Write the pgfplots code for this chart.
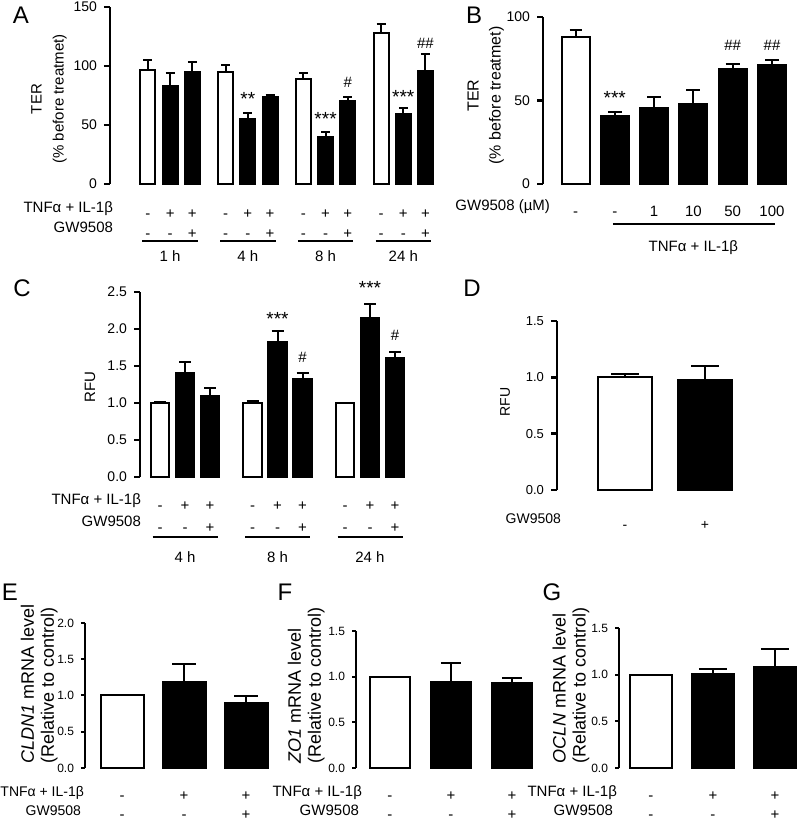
\documentclass[border=0pt]{standalone}
\usepackage{fontspec}
\setmainfont{Liberation Sans}
\usepackage{pgfplots}
\pgfplotsset{compat=1.18}
\newcommand{\fs}[2]{\fontsize{#1}{#2}\selectfont}
\pgfplotsset{
  panel/.style={
    axis y line*=left, axis x line*=bottom,
    axis line style={line width=1.2pt, black},
    x axis line style={draw=none},
    xtick style={draw=none},
    ytick style={line width=1.2pt, black},
    tick align=outside,
    major tick length=3pt,
    enlargelimits=false,
    clip=false,
    ybar,
    /pgf/number format/assume math mode=true,
    anchor=south west,
  },
  wbar/.style={fill=white, draw=black, line width=1pt, bar shift=0pt,
     error bars/.cd, y dir=plus, y explicit,
     error bar style={line width=1pt, black},
     error mark options={rotate=90, mark size=#1, line width=1pt, black}},
  bbar/.style={fill=black, draw=black, line width=1pt, bar shift=0pt,
     error bars/.cd, y dir=plus, y explicit,
     error bar style={line width=1pt, black},
     error mark options={rotate=90, mark size=#1, line width=1pt, black}},
  low/.style={
    axis line style={line width=1pt, black}, x axis line style={draw=none},
    ytick style={line width=1pt, black}, major tick length=2pt,
    yticklabel style={font=\fs{6}{7}, /pgf/number format/.cd, fixed, fixed zerofill, precision=1},
    xtick={0,1,2},
    xticklabels={{\strut-\\\strut-},{\strut+\\\strut-},{\strut+\\\strut+}},
    xticklabel style={align=center, anchor=center, inner sep=0pt, font=\fs{7.5}{9.5}, yshift=-16.95pt},
  },
}
\begin{document}
\begin{tikzpicture}
\path[use as bounding box] (0,0) rectangle (400pt,410pt);
% Panel letters
\node[font=\fs{12}{12}] at (10.5pt,402.5pt) {A};
\node[font=\fs{12}{12}] at (237pt,402.5pt) {B};
\node[font=\fs{12}{12}] at (11pt,266pt) {C};
\node[font=\fs{12}{12}] at (236pt,266pt) {D};
\node[font=\fs{12}{12}] at (5pt,114pt) {E};
\node[font=\fs{12}{12}] at (142.5pt,114pt) {F};
\node[font=\fs{12}{12}] at (276pt,114pt) {G};

% ---------------- Panel A ----------------
\begin{axis}[panel, at={(55pt,318pt)},
  x=11.1pt, y=0.59pt, xmin=-1.71, xmax=12.84, ymin=0, ymax=150,
  bar width=7.5pt,
  ytick={0,50,100,150},
  yticklabel style={font=\fs{7}{8}},
  xtick={0,1,2,3.5,4.5,5.5,7,8,9,10.5,11.5,12.5},
  xticklabels={{\strut-\\\strut-},{\strut+\\\strut-},{\strut+\\\strut+},
               {\strut-\\\strut-},{\strut+\\\strut-},{\strut+\\\strut+},
               {\strut-\\\strut-},{\strut+\\\strut-},{\strut+\\\strut+},
               {\strut-\\\strut-},{\strut+\\\strut-},{\strut+\\\strut+}},
  xticklabel style={align=center, anchor=center, inner sep=0pt, font=\fs{7.5}{10}, yshift=-17.1pt},
  ylabel={TER\\(\% before treatmet)},
  every axis y label/.style={at={(axis description cs:-0.189,0.48)}, rotate=90, anchor=center, align=center, font=\fs{7.5}{11}},
]
\addplot[wbar=2.25pt] coordinates {(0,97) +- (0,8) (3.5,95) +- (0,6) (7,89) +- (0,5) (10.5,128) +- (0,7.5)};
\addplot[bbar=2.25pt] coordinates {(1,83) +- (0,11) (2,95) +- (0,8) (4.5,55) +- (0,5) (5.5,74) +- (0,1.5)
   (8,40) +- (0,4) (9,70) +- (0,3.5) (11.5,59) +- (0,5) (12.5,96) +- (0,14)};
\node[font=\fs{9.5}{10}] at (axis cs:4.5,72) {**};
\node[font=\fs{9.5}{10}] at (axis cs:8,55) {***};
\node[font=\fs{7.5}{8}] at (axis cs:9,86) {\#};
\node[font=\fs{9.5}{10}] at (axis cs:11.5,74) {***};
\node[font=\fs{7.5}{8}] at (axis cs:12.5,119.5) {\#\#};
\node[anchor=base east, font=\fs{7.5}{10}, xshift=5pt, yshift=-14.1pt] at (rel axis cs:0,0) {TNFα + IL-1β};
\node[anchor=base east, font=\fs{7.5}{10}, xshift=5pt, yshift=-24.1pt] at (rel axis cs:0,0) {GW9508};
\draw[line width=1pt] (axis cs:-0.25,-48.3) -- (axis cs:2.25,-48.3);
\draw[line width=1pt] (axis cs:3.25,-48.3) -- (axis cs:5.75,-48.3);
\draw[line width=1pt] (axis cs:6.75,-48.3) -- (axis cs:9.25,-48.3);
\draw[line width=1pt] (axis cs:10.25,-48.3) -- (axis cs:12.75,-48.3);
\node[font=\fs{7.5}{9}] at (axis cs:1,-61) {1 h};
\node[font=\fs{7.5}{9}] at (axis cs:4.5,-61) {4 h};
\node[font=\fs{7.5}{9}] at (axis cs:8,-61) {8 h};
\node[font=\fs{7.5}{9}] at (axis cs:11.5,-61) {24 h};
\end{axis}

% ---------------- Panel B ----------------
\begin{axis}[panel, at={(271.5pt,318pt)},
  x=19.65pt, y=0.835pt, xmin=-0.827, xmax=5.356, ymin=0, ymax=100,
  bar width=14pt,
  ytick={0,50,100},
  yticklabel style={font=\fs{7}{8}},
  xtick={0,1,2,3,4,5},
  xticklabels={-,-,1,10,50,100},
  xticklabel style={anchor=base, inner sep=0pt, font=\fs{7.5}{9}, yshift=-13.1pt},
  ylabel={TER\\(\% before treatmet)},
  every axis y label/.style={at={(axis description cs:-0.235,0.53)}, rotate=90, anchor=center, align=center, font=\fs{8}{11}},
]
\addplot[wbar=3pt] coordinates {(0,88) +- (0,4)};
\addplot[bbar=3.5pt] coordinates {(1,41) +- (0,2) (2,45.5) +- (0,6.5) (3,48) +- (0,8) (4,69) +- (0,3) (5,71) +- (0,3.5)};
\node[font=\fs{9.5}{10}] at (axis cs:1,51.5) {***};
\node[font=\fs{7.5}{8}] at (axis cs:4,82.8) {\#\#};
\node[font=\fs{7.5}{8}] at (axis cs:5,82.8) {\#\#};
\node[anchor=base east, font=\fs{7.5}{10}, xshift=7pt, yshift=-13.1pt] at (rel axis cs:0,0) {GW9508 (µM)};
\draw[line width=1pt] (axis cs:0.95,-24) -- (axis cs:5.08,-24);
\node[font=\fs{7.5}{9}] at (axis cs:3.0,-38.3) {TNFα + IL-1β};
\end{axis}

% ---------------- Panel C ----------------
\begin{axis}[panel, at={(70pt,171.5pt)},
  x=12.5pt, y=37pt, xmin=-0.8, xmax=9.8, ymin=0, ymax=2.5,
  bar width=9.25pt,
  ytick={0,0.5,1,1.5,2,2.5},
  yticklabel style={font=\fs{7}{8}, /pgf/number format/.cd, fixed, fixed zerofill, precision=1},
  xtick={0,1,2,3.7,4.7,5.7,7.4,8.4,9.4},
  xticklabels={{\strut-\\\strut-},{\strut+\\\strut-},{\strut+\\\strut+},
               {\strut-\\\strut-},{\strut+\\\strut-},{\strut+\\\strut+},
               {\strut-\\\strut-},{\strut+\\\strut-},{\strut+\\\strut+}},
  xticklabel style={align=center, anchor=center, inner sep=0pt, font=\fs{7.5}{11}, yshift=-16.9pt},
  ylabel={RFU},
  every axis y label/.style={at={(axis description cs:-0.189,0.486)}, rotate=90, anchor=center, font=\fs{7.5}{9}},
]
\addplot[wbar=3pt] coordinates {(0,1.0) +- (0,0.01) (3.7,1.0) +- (0,0.03) (7.4,1.0) +- (0,0)};
\addplot[bbar=3pt] coordinates {(1,1.40) +- (0,0.16) (2,1.10) +- (0,0.10) (4.7,1.82) +- (0,0.15) (5.7,1.33) +- (0,0.08)
   (8.4,2.15) +- (0,0.19) (9.4,1.61) +- (0,0.08)};
\node[font=\fs{9.5}{10}] at (axis cs:4.7,2.14) {***};
\node[font=\fs{7.5}{8}] at (axis cs:5.7,1.62) {\#};
\node[font=\fs{9.5}{10}] at (axis cs:8.4,2.56) {***};
\node[font=\fs{7.5}{8}] at (axis cs:9.4,1.92) {\#};
\node[anchor=base east, font=\fs{7.5}{10}, xshift=4pt, yshift=-13.6pt] at (rel axis cs:0,0) {TNFα + IL-1β};
\node[anchor=base east, font=\fs{7.5}{10}, xshift=4pt, yshift=-24.6pt] at (rel axis cs:0,0) {GW9508};
\draw[line width=1pt] (axis cs:-0.3,-0.81) -- (axis cs:2.3,-0.81);
\draw[line width=1pt] (axis cs:3.4,-0.81) -- (axis cs:6.0,-0.81);
\draw[line width=1pt] (axis cs:7.1,-0.81) -- (axis cs:9.7,-0.81);
\node[font=\fs{7.5}{9}] at (axis cs:1,-1.08) {4 h};
\node[font=\fs{7.5}{9}] at (axis cs:4.7,-1.08) {8 h};
\node[font=\fs{7.5}{9}] at (axis cs:8.4,-1.08) {24 h};
\end{axis}

% ---------------- Panel D ----------------
\begin{axis}[panel, at={(278.5pt,165pt)},
  x=40pt, y=56.33pt, xmin=-0.85, xmax=1.35, ymin=0, ymax=1.5,
  bar width=27pt,
  ytick={0,0.5,1,1.5},
  yticklabel style={font=\fs{6.5}{7}, /pgf/number format/.cd, fixed, fixed zerofill, precision=1},
  xtick={0,1},
  xticklabels={-,+},
  xticklabel style={anchor=base, inner sep=0pt, font=\fs{7}{8}, yshift=-16.9pt},
  ylabel={RFU},
  every axis y label/.style={at={(axis description cs:-0.295,0.52)}, rotate=90, anchor=center, font=\fs{7}{9}},
]
\addplot[wbar=7pt] coordinates {(0,1.00) +- (0,0.03)};
\addplot[bbar=7pt] coordinates {(1,0.98) +- (0,0.12)};
\node[anchor=base east, font=\fs{7}{8}, xshift=5.5pt, yshift=-16.9pt] at (rel axis cs:0,0) {GW9508};
\end{axis}

% ---------------- Panel E ----------------
\begin{axis}[panel, low, at={(42.5pt,26pt)},
  x=31pt, y=36.25pt, xmin=-0.597, xmax=2.355, ymin=0, ymax=2,
  bar width=21.5pt,
  ytick={0,0.5,1,1.5,2},
  ylabel={\textit{CLDN1} mRNA level\\(Relative to control)},
  every axis y label/.style={at={(axis description cs:-0.25,-0.02)}, rotate=90, anchor=west, align=left, font=\fs{9}{10}},
]
\addplot[wbar=6pt] coordinates {(0,1.0) +- (0,0)};
\addplot[bbar=6pt] coordinates {(1,1.19) +- (0,0.25) (2,0.89) +- (0,0.10)};
\node[anchor=base east, font=\fs{7}{9}, xshift=3pt, yshift=-14.1pt] at (rel axis cs:0,0) {TNFα + IL-1β};
\node[anchor=base east, font=\fs{7}{9}, xshift=1.5pt, yshift=-23.6pt] at (rel axis cs:0,0) {GW9508};
\end{axis}

% ---------------- Panel F ----------------
\begin{axis}[panel, low, at={(178pt,26pt)},
  x=30.5pt, y=45.67pt, xmin=-0.557, xmax=2.344, ymin=0, ymax=1.5,
  bar width=20pt,
  ytick={0,0.5,1,1.5},
  ylabel={\textit{ZO1} mRNA level\\(Relative to control)},
  every axis y label/.style={at={(axis description cs:-0.282,-0.02)}, rotate=90, anchor=west, align=left, font=\fs{9}{10}},
]
\addplot[wbar=5pt] coordinates {(0,1.0) +- (0,0)};
\addplot[bbar=5pt] coordinates {(1,0.94) +- (0,0.21) (2,0.93) +- (0,0.05)};
\node[anchor=base east, font=\fs{7.5}{9}, xshift=6.5pt, yshift=-14.1pt] at (rel axis cs:0,0) {TNFα + IL-1β};
\node[anchor=base east, font=\fs{7.5}{9}, xshift=5pt, yshift=-23.6pt] at (rel axis cs:0,0) {GW9508};
\end{axis}

% ---------------- Panel G ----------------
\begin{axis}[panel, low, at={(309.5pt,26pt)},
  x=31pt, y=46.67pt, xmin=-0.516, xmax=2.355, ymin=0, ymax=1.5,
  bar width=21pt,
  ytick={0,0.5,1,1.5},
  ylabel={\textit{OCLN} mRNA level\\(Relative to control)},
  every axis y label/.style={at={(axis description cs:-0.27,-0.02)}, rotate=90, anchor=west, align=left, font=\fs{9}{10}},
]
\addplot[wbar=7pt] coordinates {(0,1.0) +- (0,0)};
\addplot[bbar=7pt] coordinates {(1,1.01) +- (0,0.05) (2,1.08) +- (0,0.20)};
\node[anchor=base east, font=\fs{7.5}{9}, xshift=2.5pt, yshift=-14.1pt] at (rel axis cs:0,0) {TNFα + IL-1β};
\node[anchor=base east, font=\fs{7.5}{9}, xshift=0.5pt, yshift=-23.6pt] at (rel axis cs:0,0) {GW9508};
\end{axis}
\end{tikzpicture}
\end{document}
